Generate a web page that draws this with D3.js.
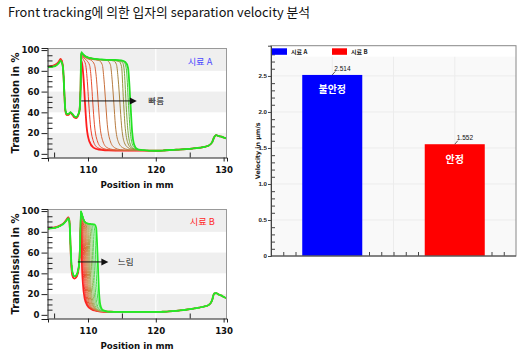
<!DOCTYPE html>
<html><head><meta charset="utf-8">
<script src="https://cdn.jsdelivr.net/npm/d3@7/dist/d3.min.js"></script>
<style>body{margin:0;background:#fff}svg{display:block}</style>
</head><body>
<svg id="c" width="528" height="353"></svg>
<script>
// ---------- data ----------
const titleText = "Front tracking에 의한 입자의 separation velocity 분석";
const transTicks = [0, 20, 40, 60, 80, 100];
const transMinor = [5,10,15,25,30,35,45,50,55,65,70,75,85,90,95];
const posTicks = [110, 120, 130];
const posMinor = [105, 115, 125];
const bandRanges = [[80, 102], [40, 60], [-4, 20]];

// Sample A (fast)
const aLeft = [[104.1,83.5],[104.6,83.8],[105.0,84.3],[105.4,85.5],[105.7,87.5],[105.95,89.5],[106.15,88],[106.35,80],[106.5,60],[106.65,43],[106.85,38.5],[107.1,38.5],[107.4,40],[107.7,38.5],[108.0,36],[108.3,35.5],[108.55,38],[108.75,42]];
const aLeftEarly = [[104.1,84],[104.6,84.5],[105.0,85.2],[105.4,86.8],[105.7,89],[105.95,91.5],[106.15,89.5],[106.35,80],[106.5,60],[106.65,42],[106.85,37.5],[107.1,37.5],[107.4,39.5],[107.7,37.5],[108.0,35],[108.3,34.5],[108.55,37],[108.75,42]];
const aFronts = [
 [[108.9,62],[109.0,90],[109.15,86],[109.35,72],[109.55,50],[109.8,26],[110.2,12],[110.8,6],[111.6,4],[112.6,3.4]],
 [[108.9,62],[109.0,94],[109.3,91],[109.65,86],[109.9,70],[110.1,50],[110.35,28],[110.75,13],[111.4,6],[112.4,4],[113.4,3.4]],
 [[108.9,62],[109.0,95],[109.3,93],[109.8,90],[110.25,85],[110.5,70],[110.7,50],[110.95,28],[111.35,13],[112,6],[113,4],[114,3.4]],
 [[108.9,62],[109.0,96],[109.3,94],[109.8,92],[110.5,90],[110.95,86],[111.25,72],[111.5,50],[111.75,28],[112.15,13],[112.8,6],[113.8,4],[114.8,3.4]],
 [[108.9,62],[109.0,96],[109.3,94.5],[109.8,92.5],[110.6,91],[111.6,90],[112.1,86],[112.35,72],[112.6,50],[112.85,28],[113.25,13],[113.9,6],[114.8,4],[115.8,3.4]],
 [[108.9,62],[109.0,96.5],[109.3,95],[109.8,93],[110.6,91.5],[111.6,90.5],[112.8,90],[113.3,86],[113.55,72],[113.8,50],[114.05,27],[114.45,12],[115.1,6],[116,4],[117,3.4]],
 [[108.9,62],[109.0,96.5],[109.3,95],[109.8,93],[110.6,92],[111.6,91],[112.8,90.5],[113.8,89.5],[114.2,86],[114.45,72],[114.7,50],[114.95,27],[115.3,12],[115.9,6],[116.8,4],[117.8,3.4]],
 [[108.9,62],[109.0,97],[109.3,95.5],[109.8,93.5],[110.6,92],[111.6,91],[112.8,90.5],[113.8,90],[114.6,89],[114.95,84],[115.2,55],[115.45,28],[115.8,12],[116.3,6],[117.1,4],[118,3.4]],
 [[108.9,62],[109.0,97],[109.3,95.5],[109.8,93.5],[110.6,92],[111.6,91],[112.8,90.5],[113.8,90],[114.6,89.5],[115.1,88],[115.35,80],[115.6,50],[115.85,25],[116.15,11],[116.6,5.5],[117.3,4],[118.2,3.4]],
 [[108.9,62],[109.0,97.5],[109.3,96],[109.8,93.5],[110.6,92],[111.6,91],[112.8,90.5],[113.8,90.5],[114.6,90],[115.3,88.5],[115.65,82],[115.95,50],[116.2,24],[116.5,10],[116.9,5.5],[117.6,4],[118.4,3.4]],
 [[108.9,62],[109.0,98],[109.2,96.5],[109.6,94],[110.2,92.5],[111,91.5],[112,91],[113,90.5],[114,90.5],[114.9,90],[115.5,88.5],[115.9,83],[116.25,50],[116.5,22],[116.8,9],[117.2,5],[117.8,3.8],[118.6,3.4]]
];
const aTail = [[113,3.3],[114,3.2],[115,3.2],[116,3.2],[117,3.2],[118,3.2],[119,3.1],[120,3.0],[121,3.2],[122,3.7],[123,4.0],[124,4.3],[125,4.8],[126,5.5],[127,6.5],[127.8,8],[128.3,11],[128.6,16],[128.9,18],[129.3,17],[129.7,16.5],[130.1,15.5],[130.6,14.5]];
const aColors = ["#ff1e1e","#f23a2a","#e65032","#d86238","#c8703c","#b87c40","#a88640","#989440","#7aa83e","#50c83a","#22e222"];

// Sample B (slow)
const bLeft = [[104.1,83],[104.8,83.5],[105.5,84.5],[106,86],[106.5,88.5],[106.9,91.5],[107.1,93],[107.25,90],[107.35,80],[107.45,62],[107.6,46],[107.8,39],[108.0,37],[108.25,38],[108.5,42],[108.7,50]];
const bLeftEarly = [[104.1,83.5],[104.8,84],[105.5,85],[106,86.5],[106.5,89],[106.9,92.5],[107.1,94],[107.25,91],[107.35,80],[107.45,60],[107.6,42],[107.8,36],[108.0,35],[108.25,36],[108.5,40],[108.7,50]];
const bFronts = [
 [[108.85,70],[108.95,96],[109.02,80],[109.1,50],[109.25,30],[109.5,16],[109.9,9],[110.5,5.5],[111.3,3.8],[112.3,3]],
 [[108.85,70],[108.95,98],[109.05,93],[109.15,75],[109.25,50],[109.42,30],[109.7,15],[110.1,8],[110.7,5],[111.5,3.6],[112.5,3]],
 [[108.85,70],[108.95,99],[109.1,95],[109.25,80],[109.4,50],[109.58,28],[109.85,14],[110.25,7.5],[110.9,4.8],[111.7,3.5],[112.6,3]],
 [[108.85,70],[108.95,99],[109.1,96],[109.3,90],[109.42,76],[109.55,50],[109.73,28],[110,14],[110.4,7.5],[111,4.8],[111.8,3.5],[112.7,3]],
 [[108.85,70],[108.95,99],[109.1,96.5],[109.35,91],[109.55,80],[109.7,50],[109.88,28],[110.15,13],[110.55,7],[111.1,4.5],[111.9,3.4],[112.8,3]],
 [[108.85,70],[108.95,99],[109.1,97],[109.35,92],[109.6,88],[109.72,76],[109.85,50],[110.03,27],[110.3,13],[110.7,7],[111.25,4.5],[112,3.4],[112.9,3]],
 [[108.85,70],[108.95,99],[109.1,97],[109.35,92],[109.7,88],[109.87,76],[110,50],[110.18,27],[110.45,13],[110.85,7],[111.4,4.4],[112.1,3.4],[113,3]],
 [[108.85,70],[108.95,99],[109.1,97],[109.35,92],[109.7,88.5],[109.95,86],[110.03,76],[110.15,50],[110.33,27],[110.6,12],[111,6.5],[111.5,4.3],[112.2,3.3],[113.1,3]],
 [[108.85,70],[108.95,99],[109.1,97],[109.35,92],[109.7,88.5],[110.1,86.5],[110.18,76],[110.3,50],[110.48,26],[110.75,12],[111.1,6.5],[111.6,4.3],[112.3,3.3],[113.2,3]],
 [[108.85,70],[108.95,99.5],[109.1,97],[109.35,92],[109.7,88.5],[110.2,87.5],[110.36,78],[110.5,50],[110.68,26],[110.95,11],[111.3,6],[111.8,4.2],[112.5,3.3],[113.3,3]],
 [[108.85,70],[108.95,99.5],[109.1,97],[109.35,92],[109.7,88.5],[110.2,87.5],[110.4,86.5],[110.56,78],[110.7,50],[110.88,25],[111.15,11],[111.5,6],[112,4],[112.6,3.3],[113.4,3]],
 [[108.85,70],[108.95,99.5],[109.1,97],[109.35,92],[109.7,88.5],[110.2,87.5],[110.6,86.5],[110.76,78],[110.9,50],[111.08,25],[111.35,10],[111.7,5.5],[112.2,4],[112.8,3.3],[113.5,3]],
 [[108.85,70],[108.95,100],[109.1,97],[109.35,92],[109.7,88.5],[110.2,87.5],[110.8,86.5],[111.0,80],[111.15,50],[111.33,24],[111.6,10],[111.95,5.5],[112.4,4],[113,3.2],[113.6,3]],
 [[108.85,70],[108.95,100],[109.1,97],[109.3,92.5],[109.6,89],[110,88],[110.5,87.5],[111,87],[111.2,84],[111.33,70],[111.45,50],[111.6,25],[111.8,10],[112.1,5],[112.6,3.6],[113.2,3]]
];
const bTail = [[113.5,3],[114,2.9],[115,2.8],[116,2.8],[117,2.8],[118,2.8],[119,2.8],[120,2.8],[121,3],[122,3.3],[123,3.8],[124,4.5],[125,5.5],[126,6.5],[127,7.8],[127.8,9.5],[128.3,14],[128.6,20.5],[128.9,21],[129.3,19.5],[129.7,18.5],[130.1,17],[130.6,16]];
const bColors = ["#ff2020","#f53428","#ec4a30","#e25c36","#d86e3c","#ce7e42","#c08a48","#b0984e","#a0a854","#90b85a","#78c860","#5cd45c","#40e048","#26e826"];

// Velocity bar chart
const samples = ["시료 A", "시료 B"];
const velocities = [2.514, 1.552];
const barColors = ["#0000ff", "#ff0000"];
const stability = ["불안정", "안정"];
const velTicks = [0, 0.5, 1.0, 1.5, 2.0, 2.5];
const velTickLabels = ["0", "0.5", "1.0", "1.5", "2.0", "2.5"];

// ---------- drawing ----------
const svg = d3.select("#c");
const tickFont = "'DejaVu Sans', sans-serif";
const krFont = "'Noto Sans CJK KR', sans-serif";

svg.append("text").attr("x", 8).attr("y", 17)
  .attr("font-family", krFont).attr("font-size", 13).attr("fill", "#111")
  .attr("textLength", 302).attr("lengthAdjust", "spacingAndGlyphs")
  .text(titleText);

function transChart(cfg) {
  const x = d3.scaleLinear().domain([104.1, 130.5]).range([48, 227]);
  const y = d3.scaleLinear().domain([-4, 102]).range([cfg.bottom, cfg.top]);
  const g = svg.append("g");
  const clipId = "clip" + cfg.id;
  svg.append("clipPath").attr("id", clipId).append("rect")
    .attr("x", 48).attr("y", cfg.top).attr("width", 179).attr("height", cfg.bottom - cfg.top);
  g.selectAll(".band").data(bandRanges).join("rect")
    .attr("x", 48).attr("width", 179)
    .attr("y", d => y(d[1])).attr("height", d => y(d[0]) - y(d[1]))
    .attr("fill", "#efefef");
  g.selectAll(".vg").data([120]).join("line")
    .attr("x1", d => x(d)).attr("x2", d => x(d))
    .attr("y1", cfg.top).attr("y2", cfg.bottom).attr("stroke", "#fff").attr("stroke-width", 1.2);
  const line = d3.line().x(d => x(d[0])).y(d => y(d[1])).curve(d3.curveMonotoneX);
  const cg = g.append("g").attr("clip-path", `url(#${clipId})`);
  cfg.fronts.forEach((f, i) => {
    const last = f[f.length - 1][0];
    const left = i < cfg.earlyCount ? cfg.leftEarly : cfg.left;
    const pts = left.concat(f, cfg.tail.filter(p => p[0] > last + 0.3));
    const edge = (i === 0 || i === cfg.fronts.length - 1);
    cg.append("path").attr("d", line(pts)).attr("fill", "none")
      .attr("stroke", cfg.colors[i]).attr("stroke-width", edge ? 1.8 : 1)
      .attr("stroke-linejoin", "round");
  });
  g.append("line").attr("x1", 48).attr("x2", 227).attr("y1", cfg.top + 0.5).attr("y2", cfg.top + 0.5).attr("stroke", "#999");
  g.append("line").attr("x1", 226.5).attr("x2", 226.5).attr("y1", cfg.top).attr("y2", cfg.bottom).attr("stroke", "#999");
  const yAx = g.append("g").attr("transform", "translate(47.5,0)")
    .call(d3.axisLeft(y).tickValues(transTicks).tickSize(6).tickPadding(2).tickFormat(d3.format("d")));
  const yMin = g.append("g").attr("transform", "translate(47.5,0)")
    .call(d3.axisRight(y).tickValues(transMinor).tickSize(5).tickFormat(""));
  yMin.select(".domain").remove();
  const xAx = g.append("g").attr("transform", `translate(0,${cfg.bottom - 0.5})`)
    .call(d3.axisBottom(x).tickValues(posTicks).tickSize(4).tickPadding(5));
  const xMin = g.append("g").attr("transform", `translate(0,${cfg.bottom - 0.5})`)
    .call(d3.axisTop(x).tickValues(posMinor).tickSize(5).tickFormat(""));
  xMin.select(".domain").remove();
  [yAx, xAx].forEach(a => {
    a.selectAll("text").attr("font-family", tickFont).attr("font-weight", "bold").attr("font-size", 8.6).attr("fill", "#111");
    a.select(".domain").attr("stroke", "#222");
    a.selectAll("line").attr("stroke", "#222");
  });
  yMin.selectAll("line").attr("stroke", "#222");
  xMin.selectAll("line").attr("stroke", "#222");
  g.append("text").attr("transform", `translate(19,${(cfg.top + cfg.bottom) / 2}) rotate(-90)`)
    .attr("text-anchor", "middle").attr("font-family", tickFont).attr("font-weight", "bold")
    .attr("font-size", 10).attr("fill", "#111").text("Transmission in %");
  g.append("text").attr("x", 137).attr("y", cfg.bottom + 30)
    .attr("text-anchor", "middle").attr("font-family", tickFont).attr("font-weight", "bold")
    .attr("font-size", 8.7).attr("fill", "#111").text("Position in mm");
  const ay = y(cfg.arrow[2]);
  g.append("line").attr("x1", x(cfg.arrow[0])).attr("x2", x(cfg.arrow[1]) - 5)
    .attr("y1", ay).attr("y2", ay).attr("stroke", "#111").attr("stroke-width", 1);
  const ax = x(cfg.arrow[1]);
  g.append("path").attr("d", `M${ax - 7},${ay - 3.5}L${ax},${ay}L${ax - 7},${ay + 3.5}Z`).attr("fill", "#111");
  g.append("text").attr("x", x(cfg.arrowText[0])).attr("y", ay).attr("dy", "0.35em")
    .attr("font-family", krFont).attr("font-size", 8.5).attr("fill", "#111").text(cfg.arrowText[1]);
  g.append("text").attr("x", x(cfg.label[0])).attr("y", y(cfg.label[1])).attr("dy", "0.35em")
    .attr("font-family", krFont).attr("font-size", 9.2).attr("fill", cfg.labelColor).text(cfg.label[2]);
}

transChart({id: "A", top: 48, bottom: 158, left: aLeft, leftEarly: aLeftEarly, earlyCount: 3, fronts: aFronts, tail: aTail, colors: aColors,
  arrow: [109.0, 117.2, 51], arrowText: [118.9, "빠름"], label: [124.7, 88.5, "시료 A"], labelColor: "#4a4aff"});
transChart({id: "B", top: 209, bottom: 319, left: bLeft, leftEarly: bLeftEarly, earlyCount: 2, fronts: bFronts, tail: bTail, colors: bColors,
  arrow: [108.5, 113.0, 51], arrowText: [114.4, "느림"], label: [125.0, 90, "시료 B"], labelColor: "#ff2a2a"});

// ---------- bar chart ----------
(function () {
  const L = 271, R = 516, T = 45.7, B = 256;
  const x = d3.scaleLinear().domain([0, 4]).range([L, R]);
  const y = d3.scaleLinear().domain([0, 2.92]).range([B, T]);
  const g = svg.append("g");
  g.append("rect").attr("x", L).attr("y", T).attr("width", R - L).attr("height", B - T).attr("fill", "#f9f9f9");
  g.selectAll(".hg").data(velTicks.slice(1)).join("line")
    .attr("x1", L).attr("x2", R).attr("y1", d => y(d)).attr("y2", d => y(d)).attr("stroke", "#ececec");
  g.selectAll(".vg").data([1, 2, 3]).join("line")
    .attr("x1", d => x(d)).attr("x2", d => x(d)).attr("y1", T).attr("y2", B).attr("stroke", "#ececec");
  g.append("rect").attr("x", L).attr("y", T).attr("width", R - L).attr("height", 11).attr("fill", "#fff");
  const bt = d3.range(1, 20).map(k => k * 0.2);
  g.append("g").attr("transform", `translate(0,${B})`)
    .call(d3.axisTop(x).tickValues(bt).tickSize(4).tickFormat(""))
    .call(a => a.select(".domain").remove())
    .selectAll("line").attr("stroke", "#444");
  const pos = [1, 3];
  g.selectAll(".bar").data(velocities).join("rect")
    .attr("x", (d, i) => x(pos[i] - 0.49)).attr("width", x(0.98) - x(0))
    .attr("y", d => y(d)).attr("height", d => y(0) - y(d))
    .attr("fill", (d, i) => barColors[i]);
  g.selectAll(".st").data(stability).join("text")
    .attr("x", (d, i) => x(pos[i])).attr("y", (d, i) => y(velocities[i]) + 15)
    .attr("dy", "0.35em").attr("text-anchor", "middle")
    .attr("font-family", krFont).attr("font-weight", "bold").attr("font-size", 10).attr("fill", "#fff")
    .text(d => d);
  g.selectAll(".ld").data(velocities).join("line")
    .attr("x1", (d, i) => x(pos[i])).attr("x2", (d, i) => x(pos[i]) + 3)
    .attr("y1", d => y(d)).attr("y2", d => y(d) - 3.5).attr("stroke", "#333").attr("stroke-width", 0.8);
  g.selectAll(".vl").data(velocities).join("text")
    .attr("x", (d, i) => x(pos[i]) + 2).attr("y", d => y(d) - 3.8)
    .attr("font-family", "'Liberation Sans', sans-serif").attr("font-size", 6.5).attr("fill", "#111")
    .text(d => d3.format(".3f")(d));
  g.append("rect").attr("x", L).attr("y", T).attr("width", R - L).attr("height", B - T)
    .attr("fill", "none").attr("stroke", "#888");
  const yAx = g.append("g").attr("transform", `translate(${L},0)`)
    .call(d3.axisLeft(y).tickValues(velTicks).tickSize(3).tickPadding(1).tickFormat((d, i) => velTickLabels[i]));
  yAx.selectAll("text").attr("font-family", "'Liberation Sans', sans-serif").attr("font-weight", "bold").attr("font-size", 6.2).attr("fill", "#222");
  yAx.selectAll("line").attr("stroke", "#444");
  yAx.select(".domain").attr("stroke", "#444");
  const ym = d3.range(1, 29).map(k => k / 10).filter(v => Math.abs(v * 2 - Math.round(v * 2)) > 1e-6);
  g.append("g").attr("transform", `translate(${L},0)`)
    .call(d3.axisRight(y).tickValues(ym).tickSize(4).tickFormat(""))
    .call(a => a.select(".domain").remove())
    .selectAll("line").attr("stroke", "#444");
  g.append("line").attr("x1", L).attr("x2", R).attr("y1", B).attr("y2", B).attr("stroke", "#444");
  g.append("text").attr("transform", `translate(259.5,${(T + B) / 2}) rotate(-90)`)
    .attr("text-anchor", "middle").attr("font-family", tickFont).attr("font-weight", "bold")
    .attr("font-size", 6.3).attr("fill", "#222").text("Velocity in μm/s");
  const lx = [272, 332];
  g.selectAll(".lsw").data(samples).join("rect")
    .attr("x", (d, i) => lx[i]).attr("y", 48.3).attr("width", 15).attr("height", 6.5)
    .attr("fill", (d, i) => barColors[i]);
  g.selectAll(".ltx").data(samples).join("text")
    .attr("x", (d, i) => lx[i] + 19).attr("y", 51.6).attr("dy", "0.35em")
    .attr("font-family", krFont).attr("font-weight", "bold").attr("font-size", 6).attr("fill", "#222")
    .text(d => d);
})();
</script>
</body></html>
